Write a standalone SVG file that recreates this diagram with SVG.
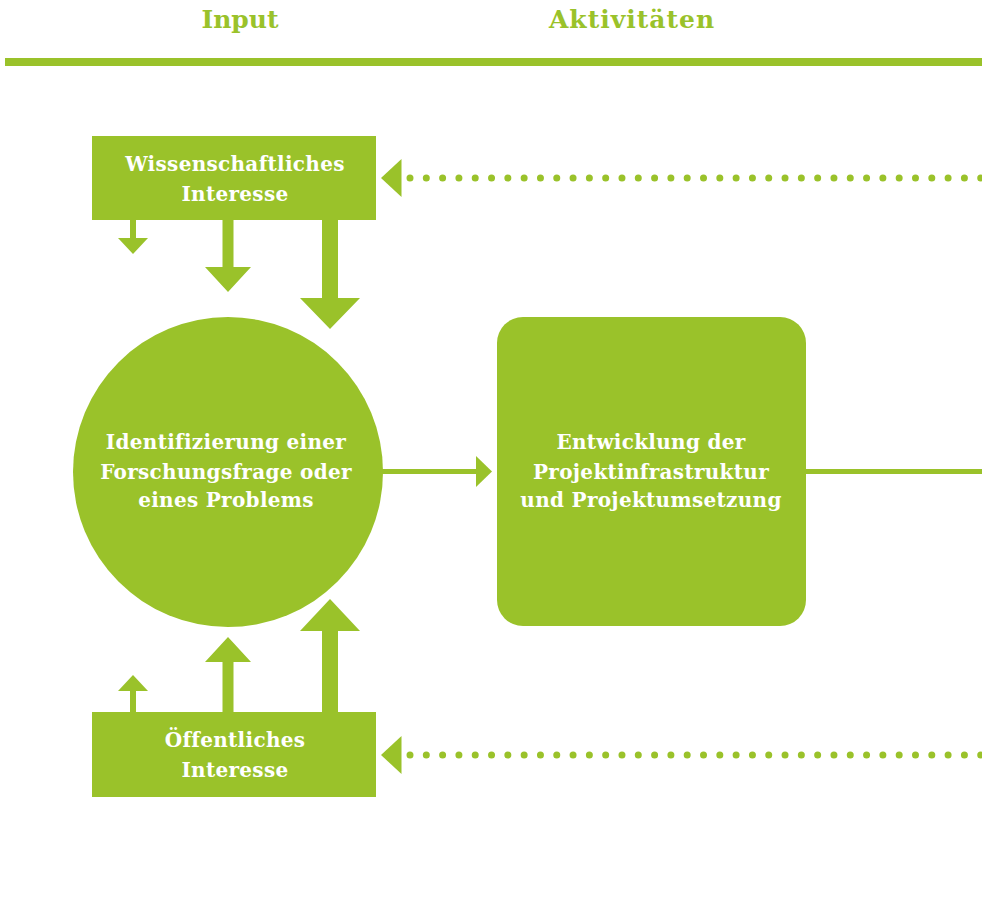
<svg xmlns="http://www.w3.org/2000/svg" width="982" height="918" viewBox="0 0 982 918">
<style>
.g{fill:#9ac22a}
.title{font-family:"DejaVu Serif","Liberation Serif",serif;font-size:25px;font-weight:bold;fill:#9ac22a;text-anchor:middle}
.lbl{font-family:"DejaVu Serif","Liberation Serif",serif;font-size:20px;font-weight:bold;letter-spacing:0.3px;fill:#ffffff;text-anchor:middle}
.dots{stroke:#9ac22a;stroke-width:7;stroke-linecap:round;stroke-dasharray:0 16.306;fill:none}
.ln{stroke:#9ac22a;stroke-width:5;fill:none}
</style>
<rect width="982" height="918" fill="#ffffff"/>
<g id="header">
<text class="title" x="240" y="28">Input</text>
<text class="title" x="632" y="28" letter-spacing="1">Aktivitäten</text>
<rect class="g" x="5" y="58" width="977" height="8"/>
</g>
<g id="connectors">
<polygon class="g" points="130,220 136,220 136,238 148,238 133,254 118,238 130,238"/>
<polygon class="g" points="222.5,220 233.5,220 233.5,267 251,267 228,292 205,267 222.5,267"/>
<polygon class="g" points="322,220 338,220 338,298 360,298 330,329 300,298 322,298"/>
<polygon class="g" points="130,712 136,712 136,691 148,691 133,675 118,691 130,691"/>
<polygon class="g" points="222.5,712 233.5,712 233.5,662 251,662 228,637 205,662 222.5,662"/>
<polygon class="g" points="322,712 338,712 338,631 360,631 330,599 300,631 322,631"/>
<line class="dots" x1="410" y1="178" x2="986" y2="178"/>
<polygon class="g" points="381,178 401.5,159 401.5,197"/>
<line class="dots" x1="410" y1="755" x2="986" y2="755"/>
<polygon class="g" points="381,755 401.5,736 401.5,774"/>
<line class="ln" x1="380" y1="471.5" x2="478" y2="471.5"/>
<polygon class="g" points="476,456 492,471.5 476,487"/>
<line class="ln" x1="805" y1="471.5" x2="982" y2="471.5"/>
</g>
<g id="node-wiss">
<rect class="g" x="92" y="136" width="284" height="84"/>
<text class="lbl" x="235" y="171">Wissenschaftliches</text>
<text class="lbl" x="235" y="201">Interesse</text>
</g>
<g id="node-oeff">
<rect class="g" x="92" y="712" width="284" height="85"/>
<text class="lbl" x="235" y="747">Öffentliches</text>
<text class="lbl" x="235" y="777">Interesse</text>
</g>
<g id="node-ident">
<circle class="g" cx="228" cy="472" r="155"/>
<text class="lbl" x="226" y="449">Identifizierung einer</text>
<text class="lbl" x="226" y="479">Forschungsfrage oder</text>
<text class="lbl" x="226" y="507">eines Problems</text>
</g>
<g id="node-entw">
<rect class="g" x="497" y="317" width="309" height="309" rx="26" ry="26"/>
<text class="lbl" x="651" y="449">Entwicklung der</text>
<text class="lbl" x="651" y="479">Projektinfrastruktur</text>
<text class="lbl" x="651" y="507">und Projektumsetzung</text>
</g>
</svg>
